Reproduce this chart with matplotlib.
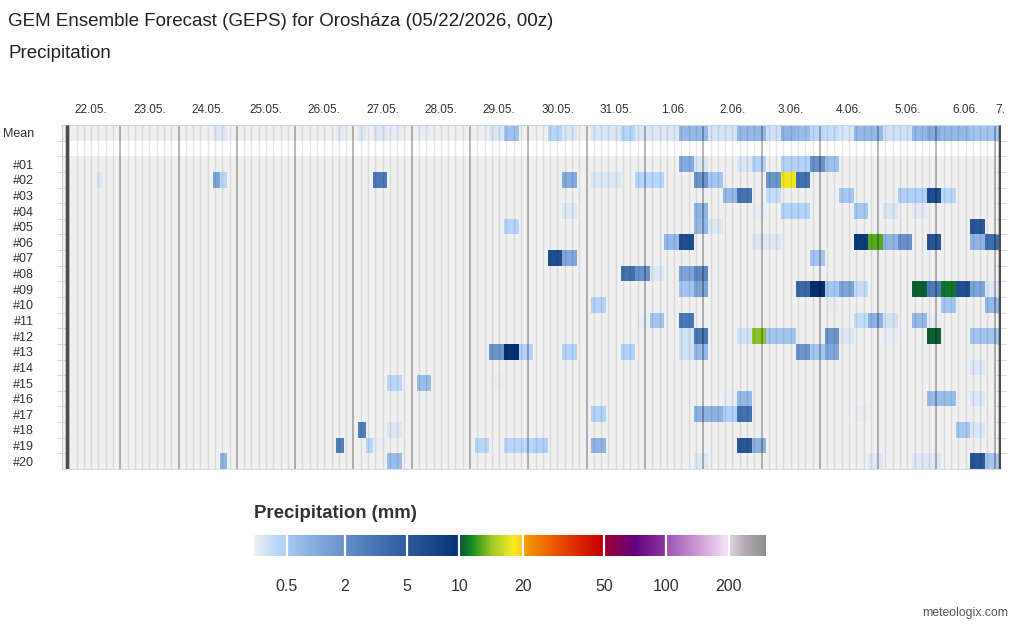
import datetime as dt

import numpy as np
import matplotlib
matplotlib.use("Agg")
import matplotlib.pyplot as plt
from matplotlib.colors import LinearSegmentedColormap, FuncNorm
from matplotlib.transforms import Bbox, blended_transform_factory

plt.rcParams["font.family"] = ["Liberation Sans", "DejaVu Sans"]

# forecast run
location = "Orosháza"
run_time = dt.datetime(2026, 5, 22, 0)  # UTC
utc_offset_h = 2                        # local time is CEST
step_h = 3
n_steps = 128                           # 384 h of 3-hourly steps

member_names = [f"#{i:02d}" for i in range(1, 21)]

# precipitation as runs of equal value: (lead hour from, lead hour to, mm)
mean_runs = [
    (60, 66, 0.1), (111, 114, 0.08), (120, 123, 0.1), (126, 132, 0.12),
    (132, 138, 0.04), (144, 150, 0.04), (174, 180, 0.15), (180, 186, 0.7),
    (198, 204, 0.4), (204, 210, 0.15), (216, 228, 0.15), (228, 234, 0.4),
    (234, 240, 0.15), (240, 252, 0.12), (252, 264, 0.9), (264, 276, 0.18),
    (276, 288, 0.9), (288, 294, 0.2), (294, 300, 1.0), (300, 306, 0.8),
    (306, 312, 0.35), (312, 318, 0.25), (318, 324, 0.15), (324, 336, 0.9),
    (336, 348, 0.2), (348, 354, 0.9), (354, 360, 1.3), (360, 372, 0.9),
    (372, 384, 0.6),
]

member_runs = [
    # 01
    [(252, 258, 1.3), (258, 264, 0.15), (276, 282, 0.15), (282, 288, 0.45),
     (294, 306, 0.45), (306, 312, 2.0), (312, 318, 0.7)],
    # 02
    [(12, 15, 0.12), (60, 63, 1.5), (63, 66, 0.35), (126, 132, 3.2),
     (204, 210, 1.3), (216, 228, 0.12), (234, 246, 0.4), (258, 264, 1.9),
     (264, 270, 0.6), (288, 294, 1.9), (294, 300, 18.0), (300, 306, 3.8)],
    # 03
    [(270, 276, 0.9), (276, 282, 3.6), (288, 294, 0.25), (318, 324, 0.55),
     (342, 354, 0.5), (354, 360, 6.5), (360, 366, 0.35)],
    # 04
    [(204, 210, 0.12), (258, 264, 1.0), (282, 288, 0.06), (294, 306, 0.45),
     (324, 330, 0.55), (336, 342, 0.15), (348, 354, 0.07)],
    # 05
    [(180, 186, 0.4), (258, 264, 0.9), (264, 270, 0.12), (372, 378, 5.5)],
    # 06
    [(246, 252, 0.9), (252, 258, 6.5), (282, 294, 0.12), (324, 330, 8.8),
     (330, 336, 13.5), (336, 342, 1.0), (342, 348, 2.0), (354, 360, 5.5),
     (372, 378, 1.0), (378, 384, 4.0)],
    # 07
    [(198, 204, 6.5), (204, 210, 1.4), (306, 312, 0.6)],
    # 08
    [(228, 234, 3.8), (234, 240, 2.0), (240, 246, 0.12), (252, 258, 1.5),
     (258, 264, 2.5)],
    # 09
    [(252, 258, 0.6), (258, 264, 1.5), (300, 306, 4.2), (306, 312, 9.9),
     (312, 318, 0.6), (318, 324, 1.5), (324, 330, 0.25), (348, 354, 10.6),
     (354, 360, 3.2), (360, 366, 11.3), (366, 372, 6.5), (372, 378, 1.5),
     (378, 384, 0.12)],
    # 10
    [(216, 222, 0.45), (312, 318, 0.06), (360, 366, 0.6), (378, 384, 0.9)],
    # 11
    [(234, 240, 0.06), (240, 246, 0.6), (252, 258, 3.3), (324, 330, 0.25),
     (330, 336, 1.1), (336, 342, 0.2), (348, 354, 0.9), (354, 360, 0.05)],
    # 12
    [(252, 258, 0.2), (258, 264, 3.3), (276, 282, 0.2), (282, 288, 14.8),
     (288, 300, 0.6), (312, 318, 1.9), (318, 324, 0.12), (336, 342, 0.06),
     (354, 360, 10.6), (372, 384, 0.6)],
    # 13
    [(174, 180, 1.9), (180, 186, 9.7), (186, 192, 0.45), (204, 210, 0.45),
     (228, 234, 0.45), (252, 258, 0.2), (258, 264, 0.9), (300, 306, 1.9),
     (306, 312, 0.6), (312, 318, 1.4)],
    # 14
    [(372, 378, 0.1)],
    # 15
    [(132, 138, 0.35), (144, 150, 0.8), (174, 180, 0.05)],
    # 16
    [(270, 276, 0.06), (276, 282, 0.9), (354, 366, 0.8), (372, 378, 0.12)],
    # 17
    [(216, 222, 0.45), (258, 270, 1.1), (270, 276, 0.5), (276, 282, 3.8),
     (324, 330, 0.05)],
    # 18
    [(120, 123, 3.0), (132, 138, 0.12), (366, 372, 0.55), (372, 378, 0.15)],
    # 19
    [(111, 114, 3.0), (123, 126, 0.4), (126, 132, 0.06), (168, 174, 0.35),
     (180, 192, 0.35), (192, 198, 0.5), (216, 222, 1.0), (276, 282, 5.5),
     (282, 288, 1.1)],
    # 20
    [(63, 66, 1.0), (132, 138, 0.8), (258, 264, 0.12), (330, 336, 0.1),
     (348, 360, 0.1), (372, 378, 5.5), (378, 384, 0.6)],
]

# colour scale: class bounds, their place on the bar (px) and colour nodes
scale_bounds = [0, 0.5, 2, 5, 10, 20, 50, 100, 200, 400]
scale_pos = [0, 32.7, 90.6, 152.6, 205.4, 268.7, 350, 412, 474.7, 512]
scale_ticks = [0.5, 2, 5, 10, 20, 50, 100, 200]
color_nodes = [
    (0.0, "#eceff3"), (0.15, "#d6e4f5"), (0.3, "#bcd9fb"), (0.5, "#b0d0f8"),
    (0.5001, "#a8c9f2"), (1.0, "#8fb4e4"), (2.0, "#6990c8"),
    (2.0001, "#6790c8"), (3.5, "#4675b2"), (5.0, "#2e5c9d"),
    (5.0001, "#2b599b"), (7.5, "#194889"), (10.0, "#03306f"),
    (10.0001, "#0b4d3e"), (12.0, "#17901d"), (15.0, "#9cc828"),
    (18.5, "#f8ec20"), (20.0, "#ffc828"),
    (20.0001, "#f6a000"), (30.0, "#ee6200"), (42.0, "#d82000"), (50.0, "#c20000"),
    (50.0001, "#a0002c"), (75.0, "#640080"), (100.0, "#8a3aa0"),
    (100.0001, "#9a50b0"), (150.0, "#cc98d4"), (200.0, "#f4e4f8"),
    (200.0001, "#e4d8e4"), (300.0, "#b0a8b0"), (400.0, "#909090"),
]


def to_bar(v):
    return np.interp(v, scale_bounds, scale_pos)


def from_bar(p):
    return np.interp(p, scale_pos, scale_bounds)


bar_len = scale_pos[-1]
cmap = LinearSegmentedColormap.from_list(
    "precip", [(float(to_bar(v)) / bar_len, c) for v, c in color_nodes])
cmap.set_bad((0, 0, 0, 0))
norm = FuncNorm((to_bar, from_bar), vmin=0, vmax=400)

# build the grid: row 0 mean, row 1 empty, rows 2.. members
n_rows = len(member_names) + 2
grid = np.zeros((n_rows, n_steps))


def fill(row, runs):
    for h0, h1, mm in runs:
        grid[row, h0 // step_h:h1 // step_h] = mm


fill(0, mean_runs)
for i, runs in enumerate(member_runs):
    fill(i + 2, runs)
# dry steps are left undrawn (nan -> transparent)
data = np.where(grid > 0, grid, np.nan)

# x axis in hours since local midnight of the run day
x_edges = utc_offset_h + step_h * np.arange(n_steps + 1)
x_end = x_edges[-1]

W, H = 1024, 628
fig = plt.figure(figsize=(W / 100, H / 100), dpi=100)


def box(l, t, r, b):
    return [l / W, 1 - b / H, (r - l) / W, (b - t) / H]


ax = fig.add_axes(box(62, 125, 1001, 469))
ax.set_xlim(0, x_end + 0.6)
ax.set_ylim(n_rows, 0)

ax.axhspan(0, 1, color="#f0f0f0", lw=0, zorder=0)
ax.axhspan(2, n_rows, color="#f0f0f0", lw=0, zorder=0)
ax.pcolormesh(x_edges, np.arange(n_rows + 1), data, cmap=cmap, norm=norm,
              shading="flat", zorder=1)

hours = np.arange(step_h, x_end, step_h)
ax.vlines(hours[hours % 24 != 0], 0, n_rows, color="black", alpha=0.09,
          lw=1.0, zorder=2)
ax.vlines(hours[hours % 24 == 0], 0, n_rows, color="black", alpha=0.33,
          lw=1.2, zorder=2)
ax.vlines([x_edges[0], x_end], 0, n_rows, color="#4a4a4a", lw=2.5, zorder=3)

ax.spines["right"].set_visible(False)
ax.spines["top"].set_color("#c6d6ee")
ax.spines["left"].set_color("#cfcfcf")
ax.spines["bottom"].set_color("#dddddd")

ax.set_xticks([])
ax.set_yticks([0.5] + [i + 2.5 for i in range(len(member_names))],
              ["Mean"] + member_names)
ax.tick_params(axis="y", which="major", length=0, pad=20, labelsize=9,
               labelcolor="#333333")
ax.set_yticks(np.arange(1, n_rows), minor=True)
ax.tick_params(axis="y", which="minor", left=True, right=True, length=7,
               direction="inout", color="#cfcfcf")

# day labels above the grid
trans = blended_transform_factory(ax.transData, ax.transAxes)
first_day = (run_time + dt.timedelta(hours=utc_offset_h)).date()
for d in range(int(x_end // 24) + 1):
    day = first_day + dt.timedelta(days=d)
    label = f"{day.day}.{day.month:02d}."
    centre = d * 24 + 12
    if centre < x_end:
        ax.text(centre, 1 + 15 / 344, label, transform=trans, ha="center",
                va="center", fontsize=8.5, color="#333333")
    else:
        t = ax.text(d * 24 + 0.2, 1 + 15 / 344, label, transform=trans,
                    ha="left", va="center", fontsize=8.5, color="#333333")
        t.set_clip_on(True)
        t.set_clip_box(Bbox.from_extents(0, 0, 1005, H))

# colour bar
cax = fig.add_axes(box(254, 535, 766, 556))
p = np.linspace(0, bar_len, 1500)
cax.imshow(cmap(norm(from_bar(p)))[None, :, :], extent=[0, bar_len, 0, 1],
           aspect="auto", interpolation="bilinear")
cax.vlines(to_bar(scale_ticks), 0, 1, color="white", lw=1.6)
cax.set_xlim(0, bar_len)
cax.set_yticks([])
cax.set_xticks(to_bar(scale_ticks), [f"{v:g}" for v in scale_ticks])
cax.tick_params(axis="x", length=0, pad=16.5, labelsize=11.5,
                labelcolor="#333333")
for s in cax.spines.values():
    s.set_visible(False)

title = (f"GEM Ensemble Forecast (GEPS) for {location} "
         f"({run_time:%m/%d/%Y}, {run_time:%H}z)")
fig.text(8 / W, 1 - 22 / H, title, fontsize=13.5, va="center", color="#222222")
fig.text(8 / W, 1 - 53 / H, "Precipitation", fontsize=13.5, va="center",
         color="#222222")
fig.text(254 / W, 1 - 513 / H, "Precipitation (mm)", fontsize=13.4,
         fontweight="bold", va="center", color="#333333")
fig.text(1008 / W, 1 - 613 / H, "meteologix.com", fontsize=8.8, ha="right",
         va="center", color="#555555")

fig.savefig("out.png", dpi=100)
